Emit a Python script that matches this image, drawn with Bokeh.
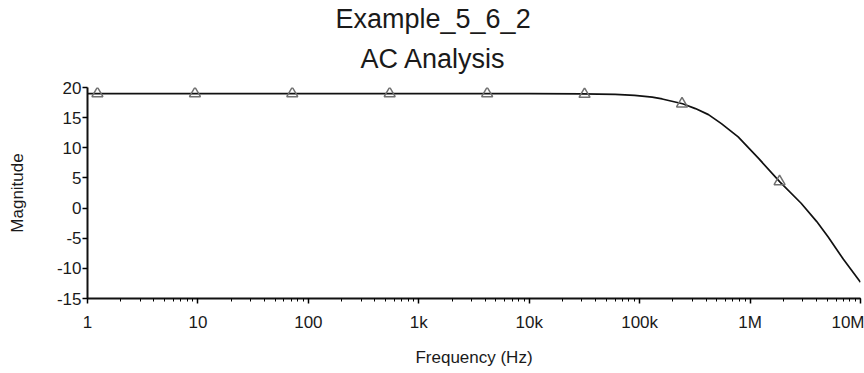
from bokeh.plotting import figure
from bokeh.models import (Range1d, LogTicker, FixedTicker, Title,
                          CustomJSTickFormatter)
from bokeh.embed import file_html
from bokeh.resources import INLINE

# ---- data ----
curve_freq = [1, 10, 100, 1e3, 1e4, 3e4, 6e4, 9e4, 1.3e5, 1.6e5, 2.45e5,
              3.2e5, 4.2e5, 5.5e5, 7.8e5, 1.2e6, 1.86e6, 2.9e6, 4e6, 5.1e6,
              7e6, 1e7]
curve_mag = [19.0, 19.0, 19.0, 19.0, 18.98, 18.93, 18.85, 18.7, 18.4, 18.1,
             17.3, 16.5, 15.5, 14.0, 11.8, 8.2, 4.35, 0.8, -2.2, -4.8,
             -8.5, -12.3]

marker_freq = [1.23, 9.4, 71.5, 545, 4.16e3, 31.7e3, 2.42e5, 1.85e6]
marker_mag = [19.0, 19.0, 19.0, 19.0, 19.0, 18.9, 17.3, 4.4]

x_ticks = [1, 10, 100, 1e3, 1e4, 1e5, 1e6, 1e7]
x_tick_labels = ["1", "10", "100", "1k", "10k", "100k", "1M", "10M"]
y_ticks = [-15, -10, -5, 0, 5, 10, 15, 20]

FONT = "Liberation Sans"
TXT = "#1a1a1a"

p = figure(width=864, height=373, x_axis_type="log",
           x_range=Range1d(1, 1e7), y_range=Range1d(-15, 20),
           output_backend="svg", toolbar_location=None,
           min_border_left=87, min_border_right=4,
           min_border_top=87, min_border_bottom=75)

p.title.visible = False
p.outline_line_color = None
p.grid.visible = False
p.background_fill_color = "white"
p.border_fill_color = "white"

# titles (later-added sits farther from frame)
p.add_layout(Title(text="AC Analysis", align="left", text_font=FONT,
                   text_font_size="27px", text_font_style="normal",
                   text_color=TXT, offset=273, standoff=27), "above")
p.add_layout(Title(text="Example_5_6_2", align="left", text_font=FONT,
                   text_font_size="27px", text_font_style="normal",
                   text_color=TXT, offset=248, standoff=-10), "above")

# x axis
xa = p.xaxis[0]
xa.ticker = LogTicker(num_minor_ticks=10, desired_num_ticks=8)
xa.formatter = CustomJSTickFormatter(
    args=dict(vals=x_ticks, labs=x_tick_labels),
    code="""
    for (let i = 0; i < vals.length; i++) {
        if (Math.abs(Math.log10(vals[i]) - Math.log10(tick)) < 1e-6) return labs[i];
    }
    return "";
    """)
xa.axis_line_width = 2
xa.axis_line_color = "#111111"
xa.major_tick_in = 0
xa.major_tick_out = 5
xa.major_tick_line_width = 1.5
xa.minor_tick_in = 0
xa.minor_tick_out = 3
xa.minor_tick_line_width = 1
xa.major_label_text_font = FONT
xa.major_label_text_font_size = "17px"
xa.major_label_text_color = TXT
xa.major_label_standoff = 9
xa.axis_label = "Frequency (Hz)"
xa.axis_label_text_font = FONT
xa.axis_label_text_font_size = "17px"
xa.axis_label_text_font_style = "normal"
xa.axis_label_text_color = TXT
xa.axis_label_standoff = 13

# y axis
ya = p.yaxis[0]
ya.ticker = FixedTicker(ticks=y_ticks)
ya.formatter = CustomJSTickFormatter(code="return tick.toFixed(0);")
ya.axis_line_width = 2
ya.axis_line_color = "#111111"
ya.major_tick_in = 0
ya.major_tick_out = 5
ya.major_tick_line_width = 1.5
ya.minor_tick_line_color = None
ya.major_label_text_font = FONT
ya.major_label_text_font_size = "17px"
ya.major_label_text_color = TXT
ya.major_label_standoff = 1
ya.axis_label = "Magnitude"
ya.axis_label_text_font = FONT
ya.axis_label_text_font_size = "17px"
ya.axis_label_text_font_style = "normal"
ya.axis_label_text_color = TXT
ya.axis_label_standoff = 27

# curve and markers
p.line(curve_freq, curve_mag, line_color="#111111", line_width=1.7)
p.scatter(marker_freq, marker_mag, marker="triangle", size=11,
          fill_color=None, line_color="#707070", line_width=1.5)

open("out.html", "w").write(file_html(p, INLINE))
